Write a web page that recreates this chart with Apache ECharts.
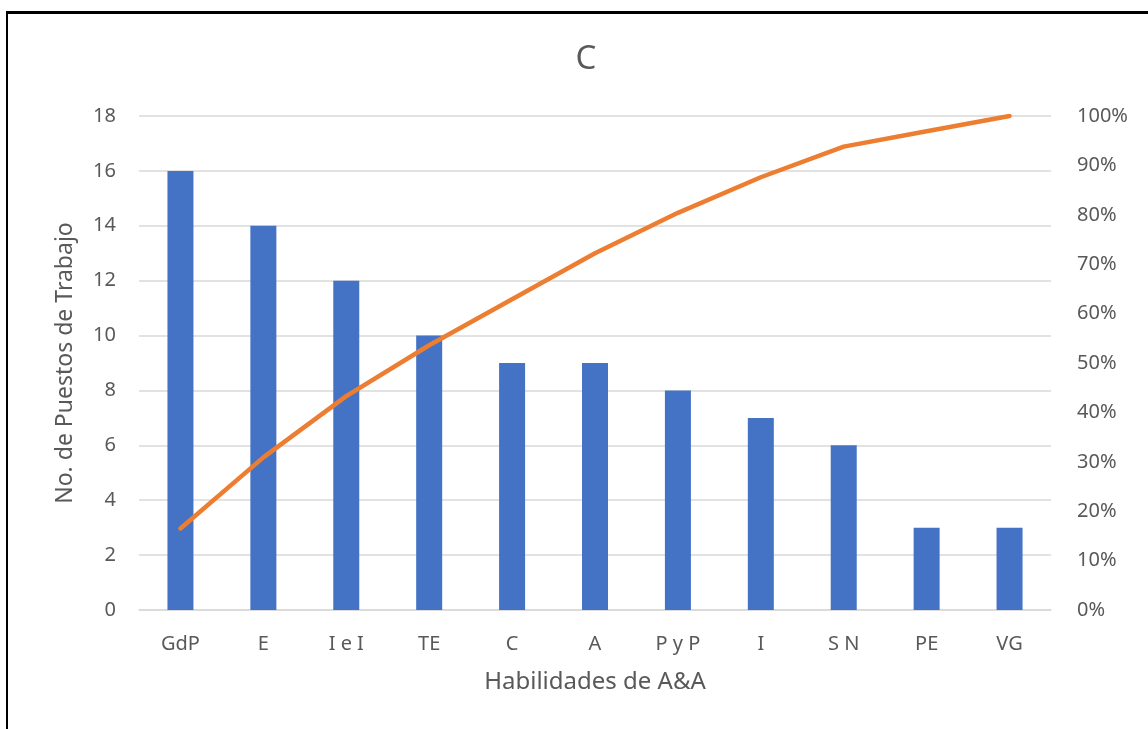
<!DOCTYPE html>
<html>
<head>
<meta charset="utf-8">
<script src="https://cdn.jsdelivr.net/npm/echarts@6/dist/echarts.min.js"></script>
<style>
html,body{margin:0;padding:0;background:#fff;}
#frame{position:absolute;left:6px;top:11px;width:1200px;height:800px;border-left:2px solid #000;border-top:3px solid #000;box-sizing:border-box;}
#chart{position:absolute;left:0;top:0;width:1148px;height:729px;}
</style>
</head>
<body>
<div id="frame"></div>
<div id="chart"></div>
<script>
const categories = ['GdP','E','I e I','TE','C','A','P y P','I','S N','PE','VG'];
const counts = [16,14,12,10,9,9,8,7,6,3,3];
const cumulativePct = [16.5,30.9,43.3,53.6,62.9,72.2,80.4,87.6,93.8,96.9,100];
const leftTicks = {min:0,max:18,interval:2};
const rightTicks = {min:0,max:100,interval:10};

const txt = '#595959';
const font = 'Noto Sans';
const chart = echarts.init(document.getElementById('chart'), null, {renderer:'canvas'});
chart.setOption({
  animation:false,
  backgroundColor:'transparent',
  title:{text:'C',left:581,top:38,textAlign:'center',textStyle:{color:txt,fontSize:33,fontWeight:'normal',fontFamily:font}},
  grid:{left:139,right:97,top:116,bottom:119},
  xAxis:{
    type:'category',data:categories,
    name:'Habilidades de A&A',nameLocation:'middle',nameGap:60,
    nameTextStyle:{color:txt,fontSize:24,fontFamily:font},
    axisLine:{lineStyle:{color:'#d9d9d9',width:1.5}},
    axisTick:{show:false},
    axisLabel:{color:txt,fontSize:20,fontFamily:font,margin:24}
  },
  yAxis:[{
    type:'value',min:leftTicks.min,max:leftTicks.max,interval:leftTicks.interval,
    name:'No. de Puestos de Trabajo',nameLocation:'middle',nameGap:62,nameRotate:90,
    nameTextStyle:{color:txt,fontSize:23,fontFamily:font},
    axisLine:{show:false},axisTick:{show:false},
    axisLabel:{color:txt,fontSize:20,fontFamily:font,margin:23},
    splitLine:{lineStyle:{color:'#d9d9d9',width:1.5}}
  },{
    type:'value',min:rightTicks.min,max:rightTicks.max,interval:rightTicks.interval,
    position:'right',
    axisLine:{show:false},axisTick:{show:false},
    axisLabel:{color:txt,fontSize:20,fontFamily:font,margin:26,formatter:'{value}%'},
    splitLine:{show:false}
  }],
  series:[{
    type:'bar',data:counts,barWidth:26,itemStyle:{color:'#4472C4'}
  },{
    type:'line',yAxisIndex:1,data:cumulativePct,showSymbol:false,symbol:'none',
    lineStyle:{color:'#ED7D31',width:4.5,cap:'round',join:'round'},z:5
  }]
});
</script>
</body>
</html>
